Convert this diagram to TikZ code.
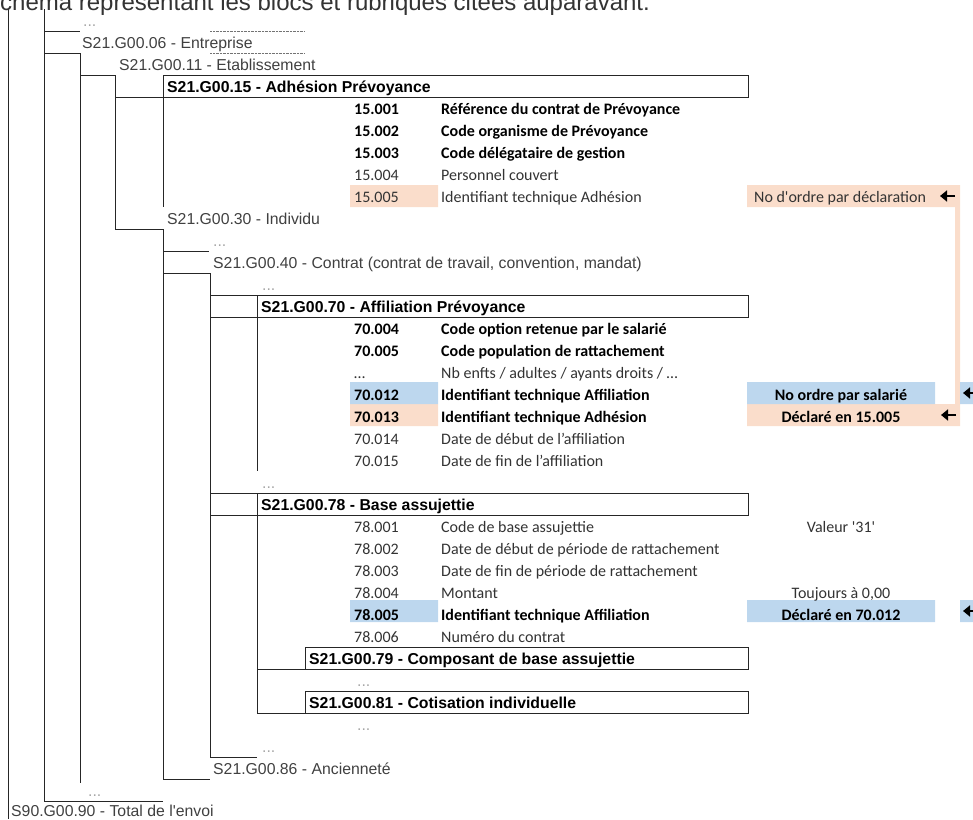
\documentclass[tikz,border=0pt]{standalone}
\usepackage{fontspec}
\usepackage{xcolor}
\usetikzlibrary{arrows.meta,calc}
\newfontfamily\arialfont{Liberation Sans}
\newfontfamily\calfont{Carlito}
\definecolor{peche}{RGB}{250,221,203}
\definecolor{bleu}{RGB}{189,215,238}
\tikzset{
	bloc/.style={anchor=base west, inner sep=0pt, text=black!75,
			font=\arialfont\fontsize{15.8}{18}\selectfont},
	titre/.style={anchor=base west, inner sep=0pt, text=black,
			font=\arialfont\bfseries\fontsize{15.8}{18}\selectfont},
	etc/.style={bloc, text=black!35},
	rub/.style={anchor=base west, inner sep=0pt, text=black!80,
			font=\calfont\fontsize{16}{18}\selectfont},
	rubg/.style={rub, text=black, font=\calfont\bfseries\fontsize{16}{18}\selectfont},
	note/.style={rub, anchor=base},
	noteg/.style={rubg, anchor=base},
	fleche/.style={line width=2.6pt, black, -{Triangle[length=7pt, width=11pt]}},
	trait/.style={line width=1pt, black!85}
}

\begin{document}
\begin{tikzpicture}[x=1pt, y=-1pt]
	\useasboundingbox (0,0) rectangle (973,819);
	\fill [peche]	(350,185) rectangle (438,207)
				(747,185) rectangle (960,207)
				(955,207) rectangle (960,404)
				(350,404) rectangle (438,426)
				(747,404) rectangle (960,426);
	\fill [bleu]	(350,382) rectangle (438,404)
				(747,382) rectangle (935,404)
				(960,382) rectangle (975,404)
				(350,600) rectangle (438,622)
				(747,600) rectangle (935,622)
				(960,600) rectangle (975,622);
	\draw [trait]	(8,9) -- (8,819)
				(44,9) -- (44,801) -- (163,801)
				(44,31) -- (80,31)
				(44,53) -- (80,53) -- (80,783)
				(80,75) -- (115,75) -- (115,229) -- (163,229) -- (163,779) -- (210,779)
				(115,97) -- (163,97) -- (163,207)
				(163,251) -- (209,251)
				(163,273) -- (210,273) -- (210,757) -- (257,757)
				(210,295) -- (257,295)
				(210,317) -- (257,317) -- (257,471)
				(210,493) -- (257,493)
				(210,515) -- (257,515) -- (257,713) -- (305,713)
				(257,669) -- (305,669);
	\draw [trait]	(163,75) rectangle (748,97)
				(257,295) rectangle (748,317)
				(257,493) rectangle (748,515)
				(305,647) rectangle (748,669)
				(305,691) rectangle (748,713);
	\draw [densely dotted, black!55] (210,31) -- (305,31) (210,53) -- (305,53);

	\node [anchor=base west, inner sep=0pt, text=black!80, font=\arialfont\fontsize{24}{28}\selectfont]
		(entete) at (-16,10) {Schéma représentant les blocs et rubriques citées auparavant.};
	\node [etc] (etc1) at (83,26) {...};
	\node [bloc] (entreprise) at (82,48) {S21.G00.06 - Entreprise};
	\node [bloc] (etab) at (119,70) {S21.G00.11 - Etablissement};
	\node [titre] (adhesion) at (167,92) {S21.G00.15 - Adhésion Prévoyance};
	\node [rubg] (c15a) at (354,114) {15.001};
	\node [rubg] (l15a) at (441,114) {Référence du contrat de Prévoyance};
	\node [rubg] (c15b) at (354,136) {15.002};
	\node [rubg] (l15b) at (441,136) {Code organisme de Prévoyance};
	\node [rubg] (c15c) at (354,158) {15.003};
	\node [rubg] (l15c) at (441,158) {Code délégataire de gestion};
	\node [rub] (c15d) at (354,180) {15.004};
	\node [rub] (l15d) at (441,180) {Personnel couvert};
	\node [rub] (c15e) at (354,202) {15.005};
	\node [rub] (l15e) at (441,202) {Identifiant technique Adhésion};
	\node [rub] (n15e) at (754,202) {No d'ordre par déclaration};
	\node [bloc] (individu) at (167,224) {S21.G00.30 - Individu};
	\node [etc] (etc2) at (213,246) {...};
	\node [bloc] (contrat) at (213,268) {S21.G00.40 - Contrat (contrat de travail, convention, mandat)};
	\node [etc] (etc3) at (262,290) {...};
	\node [titre] (affiliation) at (261,312) {S21.G00.70 - Affiliation Prévoyance};
	\node [rubg] (c70a) at (354,334) {70.004};
	\node [rubg] (l70a) at (441,334) {Code option retenue par le salarié};
	\node [rubg] (c70b) at (354,356) {70.005};
	\node [rubg] (l70b) at (441,356) {Code population de rattachement};
	\node [rub] (c70c) at (354,378) {…};
	\node [rub] (l70c) at (441,378) {Nb enfts / adultes / ayants droits / …};
	\node [rubg] (c70d) at (354,400) {70.012};
	\node [rubg] (l70d) at (441,400) {Identifiant technique Affiliation};
	\node [noteg] (n70d) at (841,400) {No ordre par salarié};
	\node [rubg] (c70e) at (354,422) {70.013};
	\node [rubg] (l70e) at (441,422) {Identifiant technique Adhésion};
	\node [noteg] (n70e) at (841,422) {Déclaré en 15.005};
	\node [rub] (c70f) at (354,444) {70.014};
	\node [rub] (l70f) at (441,444) {Date de début de l’affiliation};
	\node [rub] (c70g) at (354,466) {70.015};
	\node [rub] (l70g) at (441,466) {Date de fin de l’affiliation};
	\node [etc] (etc4) at (262,488) {...};
	\node [titre] (base) at (261,510) {S21.G00.78 - Base assujettie};
	\node [rub] (c78a) at (354,532) {78.001};
	\node [rub] (l78a) at (441,532) {Code de base assujettie};
	\node [note] (n78a) at (841,532) {Valeur '31'};
	\node [rub] (c78b) at (354,554) {78.002};
	\node [rub] (l78b) at (441,554) {Date de début de période de rattachement};
	\node [rub] (c78c) at (354,576) {78.003};
	\node [rub] (l78c) at (441,576) {Date de fin de période de rattachement};
	\node [rub] (c78d) at (354,598) {78.004};
	\node [rub] (l78d) at (441,598) {Montant};
	\node [note] (n78d) at (841,598) {Toujours à 0,00};
	\node [rubg] (c78e) at (354,620) {78.005};
	\node [rubg] (l78e) at (441,620) {Identifiant technique Affiliation};
	\node [noteg] (n78e) at (841,620) {Déclaré en 70.012};
	\node [rub] (c78f) at (354,642) {78.006};
	\node [rub] (l78f) at (441,642) {Numéro du contrat};
	\node [titre] (composant) at (309,664) {S21.G00.79 - Composant de base assujettie};
	\node [etc] (etc5) at (357,686) {...};
	\node [titre] (cotisation) at (309,708) {S21.G00.81 - Cotisation individuelle};
	\node [etc] (etc6) at (357,730) {...};
	\node [etc] (etc7) at (262,752) {...};
	\node [bloc] (anciennete) at (213,774) {S21.G00.86 - Ancienneté};
	\node [etc] (etc8) at (88,796) {...};
	\node [bloc] (total) at (11,816) {S90.G00.90 - Total de l'envoi};

	\draw [fleche] (955,196) -- (940,196);
	\draw [fleche] (979,393) -- (963,393);
	\draw [fleche] (956,415) -- (941,415);
	\draw [fleche] (979,611) -- (963,611);
\end{tikzpicture}
\end{document}
